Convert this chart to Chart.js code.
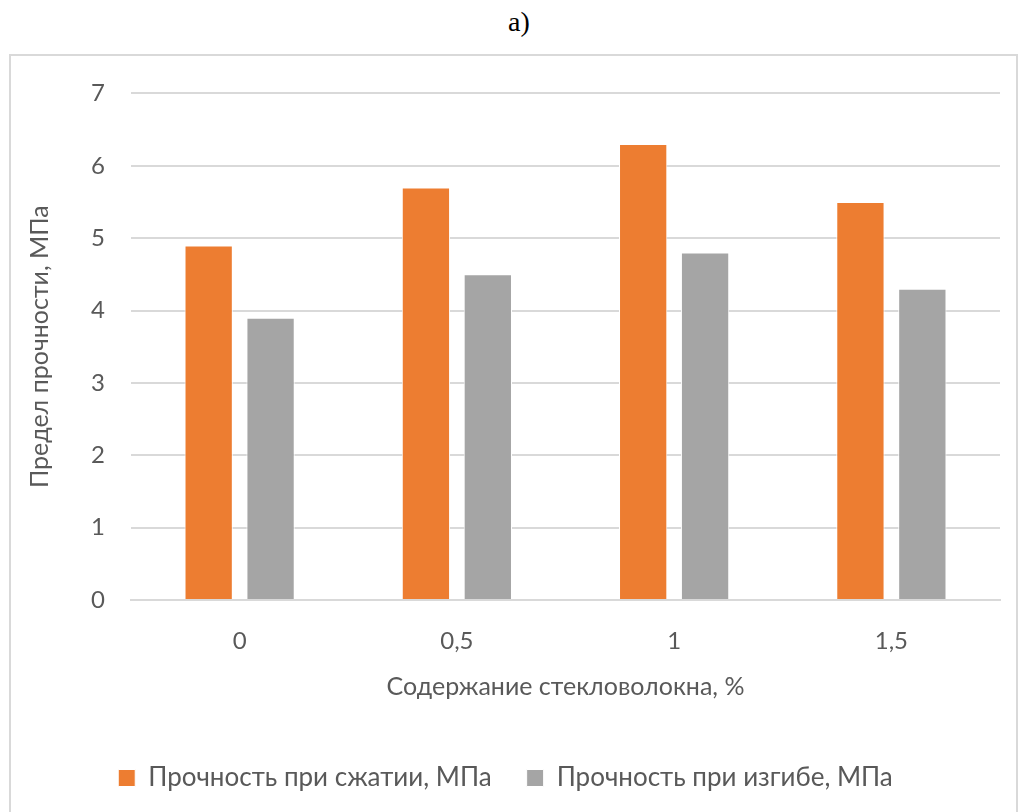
<!DOCTYPE html>
<html>
<head>
<meta charset="utf-8">
<script src="https://cdn.jsdelivr.net/npm/chart.js@4/dist/chart.umd.min.js"></script>
<style>
    html, body { margin: 0; padding: 0; background: #fff; }
    body { width: 1018px; height: 812px; position: relative; overflow: hidden; }
    .caption {
        position: absolute; left: 0; top: 6px; width: 1038px; text-align: center;
        font-family: "Liberation Serif", serif; font-size: 28px; color: #000;
    }
    .frame {
        position: absolute; left: 9px; top: 54px; width: 1005px; height: 780px;
        border: 2px solid #d9d9d9;
    }
    .frame canvas { position: absolute; left: 0; top: -3px; }
</style>
</head>
<body>
<div class="caption">а)</div>
<div class="frame"><canvas id="chart" width="1005" height="770"></canvas></div>
<script>
    const categories = ['0', '0,5', '1', '1,5'];
    const compression = [4.9, 5.7, 6.3, 5.5];
    const bending = [3.9, 4.5, 4.8, 4.3];
    const yTicks = [0, 1, 2, 3, 4, 5, 6, 7];

    const textColor = '#595959';
    const gridColor = '#d9d9d9';
    const fontFamily = 'Lato, "Open Sans", sans-serif';

    new Chart(document.getElementById('chart'), {
        type: 'bar',
        data: {
            labels: categories,
            datasets: [{
                label: 'Прочность при сжатии, МПа',
                data: compression,
                backgroundColor: '#ed7d31',
                borderColor: '#ffffff',
                borderWidth: 1,
                categoryPercentage: 0.57,
                barPercentage: 0.78
            }, {
                label: 'Прочность при изгибе, МПа',
                data: bending,
                backgroundColor: '#a5a5a5',
                borderColor: '#ffffff',
                borderWidth: 1,
                categoryPercentage: 0.57,
                barPercentage: 0.78
            }]
        },
        options: {
            responsive: false,
            animation: false,
            layout: { padding: { left: 0, right: 16, top: 0, bottom: 22 } },
            plugins: {
                legend: {
                    position: 'bottom',
                    labels: {
                        color: textColor,
                        font: { family: fontFamily, size: 26 },
                        boxWidth: 17,
                        boxHeight: 17,
                        padding: 35
                    }
                },
                tooltip: { enabled: false }
            },
            scales: {
                x: {
                    grid: { display: false },
                    border: { color: gridColor, width: 2 },
                    ticks: { color: textColor, font: { family: fontFamily, size: 24 }, padding: 19 },
                    title: {
                        display: true,
                        text: 'Содержание стекловолокна, %',
                        color: textColor,
                        font: { family: fontFamily, size: 25 },
                        padding: { top: 10, bottom: 28 }
                    },
                    afterFit: (scale) => { scale.height = 130; }
                },
                y: {
                    min: 0,
                    max: 7,
                    afterBuildTicks: (scale) => { scale.ticks = yTicks.map(v => ({ value: v })); },
                    grid: { color: gridColor, lineWidth: 2, drawTicks: false },
                    border: { display: false },
                    ticks: { color: textColor, font: { family: fontFamily, size: 24 }, padding: 26 },
                    title: {
                        display: true,
                        text: 'Предел прочности, МПа',
                        color: textColor,
                        font: { family: fontFamily, size: 25 },
                        padding: { top: 14, bottom: 0 }
                    },
                    afterFit: (scale) => { scale.width = 120; }
                }
            }
        }
    });
</script>
</body>
</html>
